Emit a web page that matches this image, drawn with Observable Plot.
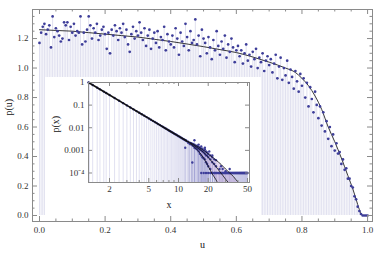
<!DOCTYPE html>
<html><head><meta charset="utf-8">
<script src="https://cdn.jsdelivr.net/npm/d3@7"></script>
<script src="https://cdn.jsdelivr.net/npm/@observablehq/plot@0.6"></script>
<style>
body{margin:0;background:#fff}
#wrap{position:relative;width:374px;height:262px;overflow:hidden;background:#fff}
#wrap svg{position:absolute;left:0;top:0}
</style></head><body><div id="wrap"></div>
<script>
// ---------- main plot data ----------
const mainU = [0,0.005,0.01,0.015,0.02,0.025,0.03,0.035,0.04,0.045,0.05,0.055,0.06,0.065,0.07,0.075,0.08,0.085,0.09,0.095,0.1,
0.105,0.11,0.115,0.12,0.125,0.13,0.135,0.14,0.145,0.15,0.155,0.16,0.165,0.17,0.175,0.18,0.185,0.19,0.195,0.2,
0.205,0.21,0.215,0.22,0.225,0.23,0.235,0.24,0.245,0.25,0.255,0.26,0.265,0.27,0.275,0.28,0.285,0.29,0.295,0.3,
0.305,0.31,0.315,0.32,0.325,0.33,0.335,0.34,0.345,0.35,0.355,0.36,0.365,0.37,0.375,0.38,0.385,0.39,0.395,0.4,
0.405,0.41,0.415,0.42,0.425,0.43,0.435,0.44,0.445,0.45,0.455,0.46,0.465,0.47,0.475,0.48,0.485,0.49,0.495,0.5,
0.505,0.51,0.515,0.52,0.525,0.53,0.535,0.54,0.545,0.55,0.555,0.56,0.565,0.57,0.575,0.58,0.585,0.59,0.595,0.6,
0.605,0.61,0.615,0.62,0.625,0.63,0.635,0.64,0.645,0.65,0.655,0.66,0.665,0.67,0.675,0.68,0.685,0.69,0.695,0.7,
0.705,0.71,0.715,0.72,0.725,0.73,0.735,0.74,0.745,0.75,0.755,0.76,0.765,0.77,0.775,0.78,0.785,0.79,0.795,0.8,
0.805,0.81,0.815,0.82,0.825,0.83,0.835,0.84,0.845,0.85,0.855,0.86,0.865,0.87,0.875,0.88,0.885,0.89,0.895,0.9,
0.905,0.91,0.915,0.92,0.925,0.93,0.935,0.94,0.945,0.95,0.955,0.96,0.965,0.97,0.975,0.98,0.985,0.99,0.995,1.0];
const mainP = [1.17,1.24,1.28,1.30,1.23,1.26,1.29,1.14,1.35,1.21,1.27,1.25,1.22,1.18,1.20,1.31,1.29,1.31,1.19,1.28,1.24,
1.30,1.22,1.25,1.24,1.35,1.16,1.24,1.18,1.26,1.35,1.29,1.20,1.27,1.24,1.30,1.19,1.22,1.26,1.28,1.23,
1.13,1.24,1.10,1.26,1.22,1.29,1.25,1.19,1.27,1.24,1.30,1.21,1.26,1.16,1.11,1.23,1.28,1.20,1.25,1.22,
1.31,1.24,1.19,1.27,1.15,1.22,1.26,1.13,1.20,1.24,1.17,1.25,1.14,1.21,1.19,1.28,1.12,1.23,1.18,1.16,
1.22,1.14,1.27,1.20,1.09,1.24,1.18,1.15,1.30,1.21,1.12,1.25,1.17,1.19,1.33,1.16,1.22,1.08,1.26,1.20,
1.17,1.10,1.21,1.14,1.06,1.19,1.12,1.25,1.15,1.09,1.18,1.13,1.22,1.07,1.16,1.11,1.20,1.14,1.04,1.12,
1.15,1.08,1.12,1.03,1.10,1.16,1.05,1.09,1.01,1.11,1.06,1.13,1.00,1.07,1.04,1.10,0.98,1.05,1.08,1.02,
1.06,0.97,1.03,1.09,0.93,1.01,1.07,0.92,1.00,0.95,1.05,0.90,0.99,0.94,0.86,0.98,0.91,0.84,0.96,0.88,
0.93,0.80,0.90,0.74,0.87,0.79,0.70,0.84,0.75,0.66,0.74,0.61,0.70,0.57,0.64,0.52,0.60,0.47,0.55,0.44,
0.49,0.42,0.43,0.35,0.38,0.31,0.32,0.25,0.25,0.20,0.19,0.13,0.11,0.06,0.03,0.01,0,0,0,0];
const curveU = [0,0.05,0.1,0.15,0.2,0.25,0.3,0.35,0.4,0.45,0.5,0.55,0.6,0.65,0.7,0.75,0.78,0.8,0.82,0.84,0.86,0.88,0.9,0.92,0.94,0.955,0.965,0.975,0.982,0.99,1.0];
const curveP = [1.26,1.255,1.25,1.24,1.23,1.22,1.21,1.195,1.18,1.163,1.145,1.125,1.105,1.075,1.04,1.0,0.97,0.93,0.88,0.81,0.72,0.60,0.50,0.39,0.27,0.18,0.11,0.04,0.005,0,0];
const xMajor = [0,0.2,0.4,0.6,0.8,1.0];
const xMinor = [0.05,0.1,0.15,0.25,0.3,0.35,0.45,0.5,0.55,0.65,0.7,0.75,0.85,0.9,0.95];
const yMajor = [0,0.2,0.4,0.6,0.8,1.0,1.2];
const yMinor = [0.05,0.1,0.15,0.25,0.3,0.35,0.45,0.5,0.55,0.65,0.7,0.75,0.85,0.9,0.95,1.05,1.1,1.15,1.25,1.3,1.35];

// ---------- inset data ----------
const headX = [1.225,1.25,1.35,1.5,1.6,1.75,1.85,2.0,2.25,2.5,2.75,3.0,3.25,3.5,3.75,4.0,4.25,4.5,4.75,5.0,5.25,5.5,5.75,6.0,6.25,6.5,6.75,7.0,7.25,7.5,7.75,8.0,8.25,8.5,8.75,9.0,9.25,9.5,9.75,10,10.25,10.5,10.75,11,11.25,11.5,11.75,12];
const headP = [1,0.949,0.777,0.591,0.499,0.396,0.342,0.280,0.206,0.1565,0.1221,0.0974,0.0791,0.0652,0.0545,0.0461,0.0394,0.0339,0.0295,0.0258,0.0227,0.0201,0.0179,0.0161,0.0144,0.0131,0.0118,0.0108,0.0098,0.0090,0.00826,0.0076,0.00702,0.0065,0.00602,0.0056,0.00521,0.00487,0.00454,0.00426,0.00399,0.00375,0.00353,0.00332,0.00313,0.00296,0.0028,0.00265];
const tailX = [12.5,13,13.5,14,14.5,15,15.5,16,16.5,17,17.5,18,18.5,19,19.5,20,21,22,23,24];
const tailA = [0.0024,0.0022,0.0021,0.0019,0.0018,0.0016,0.0016,0.0014,0.0013,0.0012,0.0012,0.0010,0.0011,0.0009,0.0008,0.0007,0.0006,0.0005,0.0004,0.00037];
const tailB = [0.0023,0.0021,0.0019,0.0018,0.0016,0.0014,0.0013,0.0012,0.0011,0.0010,0.0009,0.0008,0.0007,0.0006,0.0006,0.0005,0.0004,0.0003,0.00025,0.0002];
const tailC = [0.0022,0.0019,0.0018,0.0016,0.0013,0.0012,0.0011,0.0009,0.0007,0.0006,0.0005,0.00045,0.0004,0.0003,0.00025,0.0002,0.00015,0.0001,0.0001,0.0001];
const extraX = [11.7,13.8,14.5,16,17,18.5,20.5,22,26,27,28,30,33];
const extraP = [0.0013,0.00029,0.0028,0.0018,0.0015,0.0013,0.0009,0.0006,0.00015,0.0002,0.00015,0.00012,0.00015];
const floorX = [17,18,19,20,21,22,23,24,25,25.5,26,26.5,27,27.5,28,28.5,29,29.5,30,30.5,31,31.5,32,32.5,33,33.5,34,34.5,35,35.5,36,36.5,37,37.5,38,38.5,39,39.5,40,40.5,41,41.5,42,42.5,43,43.5,44,44.5,45,45.5,46,46.5,47,47.5,48,48.5,49,49.5,50];
const floorP = 0.0001;
const lawX = [1.225,2,3,4,5,6,8,10,12];
const lawY = [1,0.280,0.0974,0.0461,0.0258,0.0161,0.0076,0.00426,0.00265];
const b1X = [12,14,16,18,20,22,24,24.8];
const b1Y = [0.00265,0.0016,0.0009,0.00045,0.0002,0.00009,0.00005,0.000038];
const b2X = [12,14,16,18,20,22,24,26,28,30,32];
const b2Y = [0.00265,0.0018,0.0012,0.0008,0.0005,0.0003,0.00019,0.00012,0.00008,0.000053,0.000038];
const b3X = [12,14,16,18,20,22,24,27,30,33,36,38,40.5];
const b3Y = [0.00265,0.0019,0.0014,0.001,0.0007,0.0005,0.00037,0.00024,0.00015,0.0001,0.00007,0.000052,0.000038];
const bandX  = [12,14,16,18,20,22,24,24.8,27,30,33,36,38,40.5];
const bandLo = [0.00265,0.0016,0.0009,0.00045,0.0002,0.00009,0.00005,0.000038,0.000038,0.000038,0.000038,0.000038,0.000038,0.000038];
const bandHi = [0.00265,0.0019,0.0014,0.001,0.0007,0.0005,0.00037,0.00033,0.00024,0.00015,0.0001,0.00007,0.000052,0.000038];
const ixMajor = [2,5,10,20,50];
const ixMinor = [3,4,6,7,8,9,30,40];
const iyMajor = [1,0.1,0.01,0.001,0.0001];
const iyLabels = ["1","0.1","0.01","0.001","10\u207B\u2074"];

const FR = "#8a8a8a", PT = "#3d3d99", FONT = "'Liberation Serif', 'Times New Roman', serif";
const main = mainU.map((u,i)=>({u, p: mainP[i]}));
const curve = curveU.map((u,i)=>({u, p: curveP[i]}));

const W = 340, H = 212;
const mainPlot = Plot.plot({
  width: 374, height: 262,
  marginLeft: 32, marginRight: 2, marginTop: 9, marginBottom: 41,
  style: {fontFamily: FONT, fontSize: "9px", color: "#333", background: "transparent", overflow: "visible"},
  x: {domain: [-0.0213, 1.015]},
  y: {domain: [-0.0407, 1.397]},
  marks: [
    Plot.ruleX(main, {x: "u", y1: 0, y2: "p", stroke: PT, strokeOpacity: 0.16}),
    Plot.line(curve, {x: "u", y: "p", stroke: "#222", strokeWidth: 0.9, curve: "monotone-x"}),
    Plot.dot(main, {x: "u", y: "p", r: 1.35, fill: PT}),
    Plot.frame({stroke: FR}),
    Plot.tickX(xMajor, {x: d=>d, insetTop: H-5, stroke: FR}),
    Plot.tickX(xMinor, {x: d=>d, insetTop: H-2.5, stroke: FR}),
    Plot.tickX(xMajor, {x: d=>d, insetBottom: H-5, stroke: FR}),
    Plot.tickX(xMinor, {x: d=>d, insetBottom: H-2.5, stroke: FR}),
    Plot.tickY(yMajor, {y: d=>d, insetRight: W-5, stroke: FR}),
    Plot.tickY(yMinor, {y: d=>d, insetRight: W-2.5, stroke: FR}),
    Plot.tickY(yMajor, {y: d=>d, insetLeft: W-5, stroke: FR}),
    Plot.tickY(yMinor, {y: d=>d, insetLeft: W-2.5, stroke: FR}),
    Plot.axisX(xMajor, {tickSize: 0, tickPadding: 5, tickFormat: d3.format(".1f"), label: null}),
    Plot.axisY(yMajor, {tickSize: 0, tickPadding: 4, tickFormat: d3.format(".1f"), label: null}),
    Plot.text(["u"], {frameAnchor: "bottom", dy: 26, fill: "#111", fontSize: 10}),
    Plot.text(["p(u)"], {frameAnchor: "left", dx: -24, rotate: -90, fill: "#111", fontSize: 10})
  ]
});

const iW = 161, iH = 100;
const mk = (X,Y)=>X.map((x,i)=>({x, y: Array.isArray(Y) ? Y[i] : Y}));
const ipts = [
  ...mk(headX, headP), ...mk(tailX, tailA), ...mk(tailX, tailB), ...mk(tailX, tailC),
  ...mk(extraX, extraP), ...mk(floorX, floorP)
];
const law = mk(lawX, lawY), b1 = mk(b1X,b1Y), b2 = mk(b2X,b2Y), b3 = mk(b3X,b3Y);
const band = bandX.map((x,i)=>({x, lo: bandLo[i], hi: bandHi[i]}));
const YB = 3.8e-5;
const inset = Plot.plot({
  width: 216, height: 138,
  marginLeft: 43, marginRight: 12, marginTop: 5, marginBottom: 33,
  style: {fontFamily: FONT, fontSize: "9px", color: "#333", background: "#fff"},
  x: {type: "log", domain: [1.225, 52.4], axis: null},
  y: {type: "log", domain: [YB, 1], axis: null},
  marks: [
    Plot.ruleX(ipts, {x: "x", y1: YB, y2: "y", stroke: "#5a5ab0", strokeOpacity: 0.18}),
    Plot.areaY(band, {x: "x", y1: "lo", y2: "hi", fill: "#b08cc8", fillOpacity: 0.35, curve: "monotone-x"}),
    Plot.dot(ipts, {x: "x", y: "y", r: 1.2, fill: PT}),
    Plot.line(law, {x: "x", y: "y", stroke: "#111", strokeWidth: 1.6}),
    Plot.line(b1, {x: "x", y: "y", stroke: "#111", strokeWidth: 0.8, curve: "monotone-x"}),
    Plot.line(b2, {x: "x", y: "y", stroke: "#111", strokeWidth: 0.8, curve: "monotone-x"}),
    Plot.line(b3, {x: "x", y: "y", stroke: "#111", strokeWidth: 0.8, curve: "monotone-x"}),
    Plot.frame({stroke: FR}),
    Plot.tickX(ixMajor, {x: d=>d, insetTop: iH-4, stroke: FR}),
    Plot.tickX(ixMinor, {x: d=>d, insetTop: iH-2, stroke: FR}),
    Plot.tickX(ixMajor, {x: d=>d, insetBottom: iH-4, stroke: FR}),
    Plot.tickX(ixMinor, {x: d=>d, insetBottom: iH-2, stroke: FR}),
    Plot.tickY(iyMajor, {y: d=>d, insetRight: iW-4, stroke: FR}),
    Plot.tickY(iyMajor, {y: d=>d, insetLeft: iW-4, stroke: FR}),
    Plot.text(ixMajor, {x: d=>d, frameAnchor: "bottom", dy: 9, text: d=>String(d), fill: "#333"}),
    Plot.text(iyMajor, {y: d=>d, frameAnchor: "left", dx: -4, textAnchor: "end", text: (d,i)=>iyLabels[i], fill: "#333"}),
    Plot.text(["x"], {frameAnchor: "bottom", dy: 25, fill: "#111", fontSize: 10}),
    Plot.text(["p(x)"], {frameAnchor: "left", dx: -33, rotate: -90, fill: "#111", fontSize: 10})
  ]
});
inset.style.position = "absolute";
inset.style.left = "45px";
inset.style.top = "77px";

const wrap = document.getElementById("wrap");
wrap.appendChild(mainPlot);
wrap.appendChild(inset);
</script></body></html>
